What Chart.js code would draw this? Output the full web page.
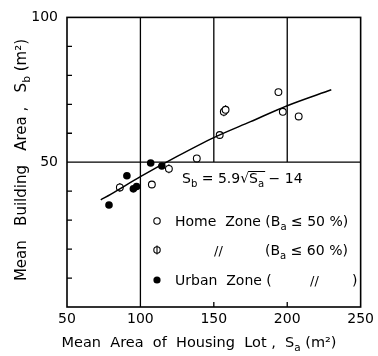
<!DOCTYPE html>
<html>
<head>
<meta charset="utf-8">
<script src="https://cdn.jsdelivr.net/npm/chart.js@4/dist/chart.umd.min.js"></script>
<style>
  body { margin: 0; background: #fff; }
  canvas { display: block; }
</style>
</head>
<body>
<canvas id="myChart" width="378" height="356"></canvas>
<script>
// Home Zone (Ba <= 50 %) - open circles
const saHome = [107.8, 138.4, 154, 194, 197, 207.8];
const sbHome = [42.3, 51.3, 59.4, 74.2, 67.4, 65.8];
// Home Zone (Ba <= 60 %) - barred circles
const saHome60 = [86, 119.4, 156.8, 158];
const sbHome60 = [41.3, 47.7, 67.4, 68.1];
// Urban Zone (Ba <= 60 %) - filled circles
const saUrban = [78.6, 90.8, 95.2, 97.4, 107, 114.6];
const sbUrban = [35.2, 45.3, 40.8, 41.6, 49.7, 48.7];
// fitted curve Sb = 5.9 sqrt(Sa) - 14
const saFit = [73, 80, 100, 125, 150, 175, 200, 230];
const sbFit = [37, 39, 45, 52, 58.5, 64, 69.5, 75];

const xTicks = [50, 100, 150, 200, 250];
const yLabels = [50, 100];

const FONT = '"DejaVu Sans", sans-serif';
const toPts = (xs, ys) => xs.map((x, i) => ({ x: x, y: ys[i] }));

// draws text with subscript parts
function richText(ctx, parts, x, y, size, align) {
    let w = 0;
    parts.forEach(p => {
        ctx.font = (p.sub ? size * 0.72 : size) + 'px ' + FONT;
        p.w = ctx.measureText(p.t).width;
        w += p.w;
    });
    let cx = align === 'center' ? x - w / 2 : x;
    ctx.textAlign = 'left';
    ctx.textBaseline = 'alphabetic';
    parts.forEach(p => {
        ctx.font = (p.sub ? size * 0.72 : size) + 'px ' + FONT;
        p.x = cx;
        ctx.fillText(p.t, cx, y + (p.sub ? size * 0.25 : 0));
        cx += p.w;
    });
    return parts;
}

const framePlugin = {
    id: 'frame',
    beforeDatasetsDraw(chart) {
        const { ctx, chartArea: a, scales: { x, y } } = chart;
        ctx.save();
        ctx.strokeStyle = '#000';
        ctx.lineWidth = 1.3;
        const y50 = y.getPixelForValue(50);
        ctx.beginPath();
        // full-height line at 100, half lines at 150 and 200, horizontal at 50
        ctx.moveTo(x.getPixelForValue(100), a.top); ctx.lineTo(x.getPixelForValue(100), a.bottom);
        ctx.moveTo(x.getPixelForValue(150), a.top); ctx.lineTo(x.getPixelForValue(150), y50);
        ctx.moveTo(x.getPixelForValue(200), a.top); ctx.lineTo(x.getPixelForValue(200), y50);
        ctx.moveTo(a.left, y50); ctx.lineTo(a.right, y50);
        // inward ticks
        for (let v = 10; v < 100; v += 10) {
            const py = y.getPixelForValue(v);
            ctx.moveTo(a.left, py); ctx.lineTo(a.left + 5, py);
        }
        [150, 200].forEach(v => {
            const px = x.getPixelForValue(v);
            ctx.moveTo(px, a.bottom); ctx.lineTo(px, a.bottom - 5);
        });
        ctx.stroke();
        ctx.lineWidth = 1.6;
        ctx.strokeRect(a.left, a.top, a.right - a.left, a.bottom - a.top);
        ctx.restore();
    },
    afterDraw(chart) {
        const { ctx } = chart;
        ctx.save();
        ctx.fillStyle = '#000';
        ctx.strokeStyle = '#000';

        // axis titles
        richText(ctx, [{ t: 'Mean  Area  of  Housing  Lot ,  S' }, { t: 'a', sub: true }, { t: ' (m²)' }],
            199, 347, 14.5, 'center');
        ctx.save();
        ctx.translate(26, 160);
        ctx.rotate(-Math.PI / 2);
        richText(ctx, [{ t: 'Mean   Building   Area ,   S' }, { t: 'b', sub: true }, { t: ' (m²)' }],
            0, 0, 15, 'center');
        ctx.restore();

        // fitted equation
        const eq = richText(ctx, [{ t: 'S' }, { t: 'b', sub: true }, { t: ' = 5.9' }, { t: '√' },
            { t: 'S' }, { t: 'a', sub: true }, { t: ' − 14' }], 182, 183, 14, 'left');
        ctx.lineWidth = 1;
        ctx.beginPath();
        ctx.moveTo(eq[3].x + eq[3].w - 1, 171.5);
        ctx.lineTo(eq[5].x + eq[5].w + 1, 171.5);
        ctx.stroke();

        // legend
        const rows = [226, 255, 285];
        ctx.lineWidth = 1.1;
        ctx.fillStyle = '#fff';
        ctx.beginPath(); ctx.arc(157, rows[0] - 5, 3.2, 0, Math.PI * 2); ctx.fill(); ctx.stroke();
        ctx.beginPath(); ctx.arc(157, rows[1] - 5, 3.2, 0, Math.PI * 2); ctx.fill(); ctx.stroke();
        ctx.beginPath(); ctx.moveTo(157, rows[1] - 9.5); ctx.lineTo(157, rows[1] - 0.5); ctx.stroke();
        ctx.fillStyle = '#000';
        ctx.beginPath(); ctx.arc(157, rows[2] - 5, 3.6, 0, Math.PI * 2); ctx.fill();

        richText(ctx, [{ t: 'Home  Zone (B' }, { t: 'a', sub: true }, { t: ' ≤ 50 %)' }], 175, rows[0], 14, 'left');
        richText(ctx, [{ t: '//' }], 214, rows[1], 13, 'left');
        richText(ctx, [{ t: '(B' }, { t: 'a', sub: true }, { t: ' ≤ 60 %)' }], 265, rows[1], 14, 'left');
        richText(ctx, [{ t: 'Urban  Zone (' }], 175, rows[2], 14, 'left');
        richText(ctx, [{ t: '//' }], 310, rows[2], 13, 'left');
        richText(ctx, [{ t: ')' }], 352, rows[2], 14, 'left');
        ctx.restore();
    }
};

new Chart(document.getElementById('myChart').getContext('2d'), {
    type: 'scatter',
    data: {
        datasets: [
            {
                label: 'fit',
                type: 'line',
                data: toPts(saFit, sbFit),
                borderColor: '#000',
                borderWidth: 1.5,
                pointRadius: 0,
                cubicInterpolationMode: 'monotone',
                fill: false,
            },
            {
                label: 'Home Zone (Ba ≤ 50 %)',
                data: toPts(saHome, sbHome),
                pointStyle: 'circle',
                pointRadius: 3.4,
                borderColor: '#000',
                borderWidth: 1.1,
                backgroundColor: '#fff',
            },
            {
                label: 'Home Zone (Ba ≤ 60 %)',
                data: toPts(saHome60, sbHome60),
                pointStyle: 'circle',
                pointRadius: 3.4,
                borderColor: '#000',
                borderWidth: 1.1,
                backgroundColor: '#fff',
            },
            {
                label: 'bar',
                data: toPts(saHome60, sbHome60),
                pointStyle: 'line',
                pointRotation: 90,
                pointRadius: 4.5,
                borderColor: '#000',
                borderWidth: 1.1,
            },
            {
                label: 'Urban Zone (Ba ≤ 60 %)',
                data: toPts(saUrban, sbUrban),
                pointStyle: 'circle',
                pointRadius: 3.8,
                borderWidth: 0,
                backgroundColor: '#000',
            },
        ],
    },
    options: {
        responsive: false,
        animation: false,
        layout: { padding: { top: 10, right: 15, left: 0, bottom: 0 } },
        plugins: { legend: { display: false }, tooltip: { enabled: false } },
        scales: {
            x: {
                type: 'linear',
                min: 50, max: 250,
                afterBuildTicks: s => { s.ticks = xTicks.map(v => ({ value: v })); },
                afterFit: s => { s.height = 49; },
                grid: { display: false, drawTicks: false },
                border: { display: false },
                ticks: { color: '#000', font: { family: FONT, size: 14 }, padding: 4 },
            },
            y: {
                type: 'linear',
                min: 0, max: 100,
                afterBuildTicks: s => { s.ticks = yLabels.map(v => ({ value: v })); },
                afterFit: s => { s.width = 67; },
                grid: { display: false, drawTicks: false },
                border: { display: false },
                ticks: { color: '#000', font: { family: FONT, size: 14 }, padding: 9 },
            },
        },
    },
    plugins: [framePlugin],
});
</script>
</body>
</html>
